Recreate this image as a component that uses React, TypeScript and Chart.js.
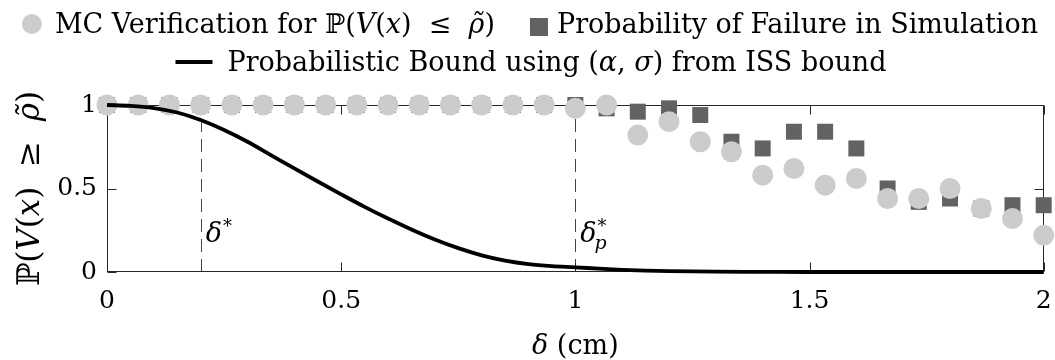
import React, { useEffect, useRef } from "react";
import { Chart, registerables } from "chart.js";
Chart.register(...registerables);

// ---- data ----
const deltaValues = [
  0, 0.0667, 0.1333, 0.2, 0.2667, 0.3333, 0.4, 0.4667, 0.5333, 0.6, 0.6667, 0.7333, 0.8, 0.8667, 0.9333,
  1.0, 1.0667, 1.1333, 1.2, 1.2667, 1.3333, 1.4, 1.4667, 1.5333, 1.6, 1.6667, 1.7333, 1.8, 1.8667, 1.9333, 2.0,
];
const mcVerification = [
  1, 1, 1, 1, 1, 1, 1, 1, 1, 1, 1, 1, 1, 1, 1,
  0.98, 1.0, 0.82, 0.9, 0.78, 0.72, 0.58, 0.62, 0.52, 0.56, 0.44, 0.44, 0.5, 0.38, 0.32, 0.22,
];
const failureProb = [
  1, 1, 1, 1, 1, 1, 1, 1, 1, 1, 1, 1, 1, 1, 1,
  1.0, 0.98, 0.96, 0.98, 0.94, 0.78, 0.74, 0.84, 0.84, 0.74, 0.5, 0.42, 0.44, 0.38, 0.4, 0.4,
];
const boundX = [
  0, 0.05, 0.1, 0.15, 0.2, 0.25, 0.3, 0.35, 0.4, 0.45, 0.5, 0.55, 0.6, 0.65, 0.7, 0.75, 0.8, 0.85, 0.9, 0.95,
  1.0, 1.05, 1.1, 1.15, 1.2, 1.3, 1.4, 1.5, 1.75, 2.0,
];
const boundY = [
  1.0, 0.995, 0.982, 0.955, 0.91, 0.85, 0.78, 0.7, 0.62, 0.542, 0.465, 0.39, 0.32, 0.255, 0.195, 0.143, 0.1,
  0.068, 0.047, 0.035, 0.028, 0.02, 0.013, 0.008, 0.005, 0.002, 0.001, 0, 0, 0,
];
const xTickValues = [0, 0.5, 1, 1.5, 2];
const yTickValues = [0, 0.5, 1];
const markerLines = [0.2, 1.0];

const SERIF = '"DejaVu Serif", "Liberation Serif", serif';
type Seg = [string, boolean];

function fontOf(size: number, italic: boolean) {
  return `${italic ? "italic " : ""}${size}px ${SERIF}`;
}
function richWidth(ctx: CanvasRenderingContext2D, segs: Seg[], size: number) {
  let w = 0;
  for (const [t, it] of segs) {
    ctx.font = fontOf(size, it);
    w += ctx.measureText(t).width;
  }
  return w;
}
function drawRich(ctx: CanvasRenderingContext2D, segs: Seg[], x: number, y: number, size: number) {
  let cx = x;
  for (const [t, it] of segs) {
    ctx.font = fontOf(size, it);
    ctx.fillText(t, cx, y);
    cx += ctx.measureText(t).width;
  }
  return cx;
}

const legend1: Seg[] = [
  ["MC Verification for ", false],
  ["\u2119(", false],
  ["V", true],
  ["(", false],
  ["x", true],
  [")  \u2264  ", false],
  ["\u03C1\u0303", true],
  [")", false],
];
const legend2: Seg[] = [["Probability of Failure in Simulation", false]];
const legend3: Seg[] = [
  ["Probabilistic Bound using (", false],
  ["\u03B1", true],
  [", ", false],
  ["\u03C3", true],
  [") from ISS bound", false],
];
const yTitle: Seg[] = [
  ["\u2119(", false],
  ["V", true],
  ["(", false],
  ["x", true],
  [")  \u2265  ", false],
  ["\u03C1\u0303", true],
  [")", false],
];
const xTitle: Seg[] = [
  ["\u03B4", true],
  [" (cm)", false],
];

const AXIS = "#262626";

const decorPlugin = {
  id: "decor",
  beforeDatasetsDraw(chart: any) {
    const { ctx, chartArea, scales } = chart;
    const { left, right, top, bottom } = chartArea;
    const xs = scales.x;
    const ys = scales.y;
    ctx.save();
    ctx.strokeStyle = "#444444";
    ctx.lineWidth = 1;
    ctx.setLineDash([13, 7]);
    for (const v of markerLines) {
      const px = Math.round(xs.getPixelForValue(v)) + 0.5;
      ctx.beginPath();
      ctx.moveTo(px, ys.getPixelForValue(0));
      ctx.lineTo(px, ys.getPixelForValue(1));
      ctx.stroke();
    }
    ctx.setLineDash([]);
    ctx.strokeStyle = AXIS;
    const L = Math.round(left) + 0.5, R = Math.round(right) - 0.5;
    const T = Math.round(top) + 0.5, B = Math.round(bottom) - 0.5;
    ctx.strokeRect(L, T, R - L, B - T);
    const tl = 9;
    ctx.beginPath();
    for (const v of xTickValues) {
      const px = Math.round(xs.getPixelForValue(v)) + 0.5;
      ctx.moveTo(px, B); ctx.lineTo(px, B - tl);
      ctx.moveTo(px, T); ctx.lineTo(px, T + tl);
    }
    for (const v of yTickValues) {
      const py = Math.round(ys.getPixelForValue(v)) + 0.5;
      ctx.moveTo(L, py); ctx.lineTo(L + tl, py);
      ctx.moveTo(R, py); ctx.lineTo(R - tl, py);
    }
    ctx.stroke();
    ctx.restore();
  },
  afterDraw(chart: any) {
    const { ctx, chartArea, scales } = chart;
    const xs = scales.x;
    const ys = scales.y;
    ctx.save();
    ctx.fillStyle = "#000";
    ctx.textBaseline = "alphabetic";
    ctx.textAlign = "left";

    // marker labels
    const by = ys.getPixelForValue(0.18);
    const x1 = xs.getPixelForValue(markerLines[0]) + 5;
    ctx.font = fontOf(27, true);
    ctx.fillText("\u03B4", x1, by);
    let w = ctx.measureText("\u03B4").width;
    ctx.font = fontOf(18, false);
    ctx.fillText("*", x1 + w + 1, by - 10);
    const x2 = xs.getPixelForValue(markerLines[1]) + 5;
    ctx.font = fontOf(27, true);
    ctx.fillText("\u03B4", x2, by);
    w = ctx.measureText("\u03B4").width;
    ctx.font = fontOf(18, false);
    ctx.fillText("*", x2 + w + 1, by - 10);
    ctx.font = fontOf(19, true);
    ctx.fillText("p", x2 + w - 2, by + 7);

    // axis titles
    const ts = 27;
    const xw = richWidth(ctx, xTitle, ts);
    const xc = (chartArea.left + chartArea.right) / 2;
    drawRich(ctx, xTitle, xc - xw / 2, 354, ts);

    const yts = 31;
    const yw = richWidth(ctx, yTitle, yts);
    ctx.save();
    ctx.translate(39, (chartArea.top + chartArea.bottom) / 2);
    ctx.rotate(-Math.PI / 2);
    drawRich(ctx, yTitle, -yw / 2, 0, yts);
    ctx.restore();

    // legend
    const ls = 27;
    const w1 = richWidth(ctx, legend1, ls);
    const w2 = richWidth(ctx, legend2, ls);
    const w3 = richWidth(ctx, legend3, ls);
    const row1 = 20 + 13 + w1 + 35 + 18 + 9 + w2;
    let cx = 530 - row1 / 2;
    ctx.fillStyle = "#cccccc";
    ctx.beginPath();
    ctx.arc(cx + 10, 24, 10, 0, Math.PI * 2);
    ctx.fill();
    cx += 33;
    ctx.fillStyle = "#000";
    drawRich(ctx, legend1, cx, 33, ls);
    cx += w1 + 35;
    ctx.fillStyle = "#626262";
    ctx.fillRect(cx, 18, 18, 18);
    cx += 27;
    ctx.fillStyle = "#000";
    drawRich(ctx, legend2, cx, 33, ls);

    const row2 = 37 + 15 + w3;
    cx = 531 - row2 / 2;
    ctx.strokeStyle = "#000";
    ctx.lineWidth = 4;
    ctx.beginPath();
    ctx.moveTo(cx, 62);
    ctx.lineTo(cx + 37, 62);
    ctx.stroke();
    cx += 52;
    drawRich(ctx, legend3, cx, 71, ls);
    ctx.restore();
  },
};

export default function App() {
  const ref = useRef<HTMLCanvasElement | null>(null);
  useEffect(() => {
    if (!ref.current) return;
    const chart = new Chart(ref.current, {
      type: "scatter",
      data: {
        datasets: [
          {
            type: "line",
            label: "Probabilistic Bound",
            data: boundX.map((x, i) => ({ x, y: boundY[i] })),
            borderColor: "#000000",
            borderWidth: 3.8,
            pointRadius: 0,
            cubicInterpolationMode: "monotone",
            fill: false,
            clip: false as any,
            order: 0,
          },
          {
            label: "MC Verification",
            data: deltaValues.map((x, i) => ({ x, y: mcVerification[i] })),
            backgroundColor: "#cccccc",
            borderWidth: 0,
            pointRadius: 10.5,
            pointHoverRadius: 10.5,
            pointStyle: "circle",
            clip: false as any,
            order: 1,
          },
          {
            label: "Probability of Failure",
            data: deltaValues.map((x, i) => ({ x, y: failureProb[i] })),
            backgroundColor: "#626262",
            borderWidth: 0,
            pointRadius: 11.3,
            pointHoverRadius: 11.3,
            pointStyle: "rect",
            clip: false as any,
            order: 2,
          },
        ] as any,
      },
      options: {
        animation: false,
        responsive: false,
        devicePixelRatio: 1,
        events: [],
        layout: { padding: { left: 0, top: 105, right: 9, bottom: 0 } },
        plugins: { legend: { display: false }, tooltip: { enabled: false } },
        scales: {
          x: {
            type: "linear",
            min: 0,
            max: 2,
            afterBuildTicks: (s: any) => { s.ticks = xTickValues.map((v) => ({ value: v })); },
            afterFit: (s: any) => { s.height = 88; s.paddingLeft = 0; s.paddingRight = 0; },
            grid: { display: false, drawTicks: false },
            border: { display: false },
            ticks: {
              padding: 14,
              color: "#000",
              font: { family: SERIF, size: 25 },
              maxRotation: 0,
              callback: (v: any) => String(v),
            },
          },
          y: {
            type: "linear",
            min: 0,
            max: 1,
            afterBuildTicks: (s: any) => { s.ticks = yTickValues.map((v) => ({ value: v })); },
            afterFit: (s: any) => { s.width = 107; s.paddingTop = 0; s.paddingBottom = 0; },
            grid: { display: false, drawTicks: false },
            border: { display: false },
            ticks: {
              padding: 10,
              color: "#000",
              font: { family: SERIF, size: 25 },
              callback: (v: any) => String(v),
            },
          },
        },
      } as any,
      plugins: [decorPlugin],
    });
    return () => chart.destroy();
  }, []);
  return (
    <div style={{ position: "fixed", left: 0, top: 0, width: 1055, height: 360, background: "#fff" }}>
      <canvas ref={ref} width={1055} height={360} style={{ width: 1055, height: 360, display: "block" }} />
    </div>
  );
}
